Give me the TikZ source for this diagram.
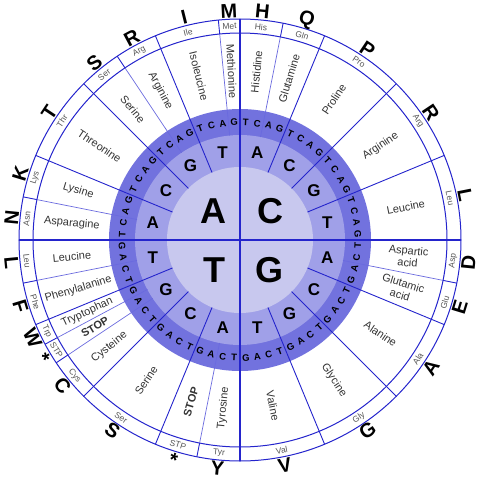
\documentclass[tikz,border=0pt]{standalone}
\usepackage{fontspec}
\setmainfont{Liberation Sans}
\definecolor{ringA}{HTML}{C8C8EE}
\definecolor{ringB}{HTML}{A0A0E8}
\definecolor{ringC}{HTML}{7272DE}
\definecolor{darkline}{HTML}{2424CC}
\definecolor{lightline}{HTML}{6A6ADE}
\definecolor{nametext}{HTML}{333333}
\definecolor{abbrtext}{HTML}{555555}
\begin{document}
\begin{tikzpicture}[x=1pt,y=1pt,
  mainline/.style={draw=darkline,line width=0.9pt},
  subline/.style={draw=lightline,line width=0.7pt},
  axisline/.style={draw=darkline,line width=1.4pt},
  circline/.style={draw=darkline,line width=1pt},
  innerlet/.style={font=\fontsize{36}{36}\selectfont\bfseries,inner sep=0pt},
  secondlet/.style={font=\fontsize{17}{17}\selectfont\bfseries,inner sep=0pt},
  thirdlet/.style={font=\fontsize{9.5}{9.5}\selectfont\bfseries,inner sep=0pt},
  aaname/.style={font=\fontsize{11}{12}\selectfont,text=nametext,inner sep=0pt,align=center},
  aaabbr/.style={font=\fontsize{8.5}{8.5}\selectfont,text=abbrtext,inner sep=0pt},
  aaletter/.style={font=\fontsize{20}{20}\selectfont\bfseries,inner sep=0pt}]
\useasboundingbox (-240,-240) rectangle (241,240);
% rings
\fill[ringC] (0,0) circle (131);
\fill[ringB] (0,0) circle (105);
\fill[ringA] (0,0) circle (73);
\draw[circline] (0,0) circle (207);
\draw[circline] (0,0) circle (221);
% sub-lines between amino acids within a second-base sector
\foreach \a in {78.75,-11.25,-101.25,-146.25,-151.875,-168.75,168.75,123.75,95.625}{
  \draw[subline] (\a:105) -- (\a:207);
  \draw[mainline] (\a:207) -- (\a:221);
}
% lines between second-base sectors
\foreach \q in {0,90,180,270}{
  \foreach \d in {22.5,45,67.5}{
    \draw[mainline] (\q+\d:73) -- (\q+\d:221);
  }
}
% diameters
\draw[axisline] (-221,0) -- (221,0);
\draw[axisline] (0,-221) -- (0,221);
% inner letters
\node[innerlet] (fA) at (-27,29) {A};
\node[innerlet] (fC) at (30,29) {C};
\node[innerlet] (fT) at (-26,-30) {T};
\node[innerlet] (fG) at (29,-30) {G};
% second-base letters
\foreach \s [count=\k] in {90,0,-90,180}{
  \node[secondlet] (sa\k) at (\s-11.25:89) {A};
  \node[secondlet] (sc\k) at (\s-33.75:89) {C};
  \node[secondlet] (sg\k) at (\s-56.25:89) {G};
  \node[secondlet] (st\k) at (\s-78.75:89) {T};
}
% third-base letters
\foreach \i in {0,...,63}{
  \pgfmathsetmacro\ang{87.1875-5.625*\i}
  \pgfmathtruncatemacro\m{mod(\i,4)}
  \pgfmathsetmacro\rot{sin(\ang)>0 ? \ang-90 : \ang+90}
  \node[thirdlet,rotate=\rot] (tb\i) at (\ang:118) {\ifcase\m T\or C\or A\or G\fi};
}
% amino acid names
\foreach \a/\t [count=\k] in {84.375/Histidine,73.125/Glutamine,56.25/Proline,33.75/Arginine,11.25/Leucine,
  -5.625/{Aspartic\\acid},-16.875/{Glutamic\\acid},-33.75/Alanine,-56.25/Glycine,-78.75/Valine,
  -95.625/Tyrosine,-106.875/{\bfseries STOP},-123.75/Serine,-140.625/Cysteine,-149.0625/{\bfseries STOP},
  -154.6875/Tryptophan,-163.125/Phenylalanine,-174.375/Leucine,174.375/Asparagine,163.125/Lysine,
  146.25/Threonine,129.375/Serine,118.125/Arginine,104.0625/Isoleucine,92.8125/Methionine}{
  \pgfmathsetmacro\rot{cos(\a)>0 ? \a : \a+180}
  \node[aaname,rotate=\rot] (nm\k) at (\a:169) {\t};
}
% abbreviations
\foreach \a/\t [count=\k] in {84.375/His,73.125/Gln,56.25/Pro,33.75/Arg,11.25/Leu,
  -5.625/Asp,-16.875/Glu,-33.75/Ala,-56.25/Gly,-78.75/Val,
  -95.625/Tyr,-106.875/STP,-123.75/Ser,-140.625/Cys,-149.0625/STP,
  -154.6875/Trp,-163.125/Phe,-174.375/Leu,174.375/Asn,163.125/Lys,
  146.25/Thr,129.375/Ser,118.125/Arg,104.0625/Ile,92.8125/Met}{
  \pgfmathsetmacro\rot{sin(\a)>0 ? \a-90 : \a+90}
  \node[aaabbr,rotate=\rot] (ab\k) at (\a:214) {\t};
}
% one-letter codes
\foreach \a/\t [count=\k] in {84.375/H,73.125/Q,56.25/P,33.75/R,11.25/L,
  -5.625/D,-16.875/E,-33.75/A,-56.25/G,-78.75/V,
  -95.625/Y,-106.875/*,-123.75/S,-140.625/C,-149.0625/*,
  -154.6875/W,-163.125/F,-174.375/L,174.375/N,163.125/K,
  146.25/T,129.375/S,118.125/R,104.0625/I,92.8125/M}{
  \pgfmathsetmacro\rot{sin(\a)>0 ? \a-90 : \a+90}
  \node[aaletter,rotate=\rot] (lt\k) at (\a:229.5) {\t};
}
\end{tikzpicture}
\end{document}
